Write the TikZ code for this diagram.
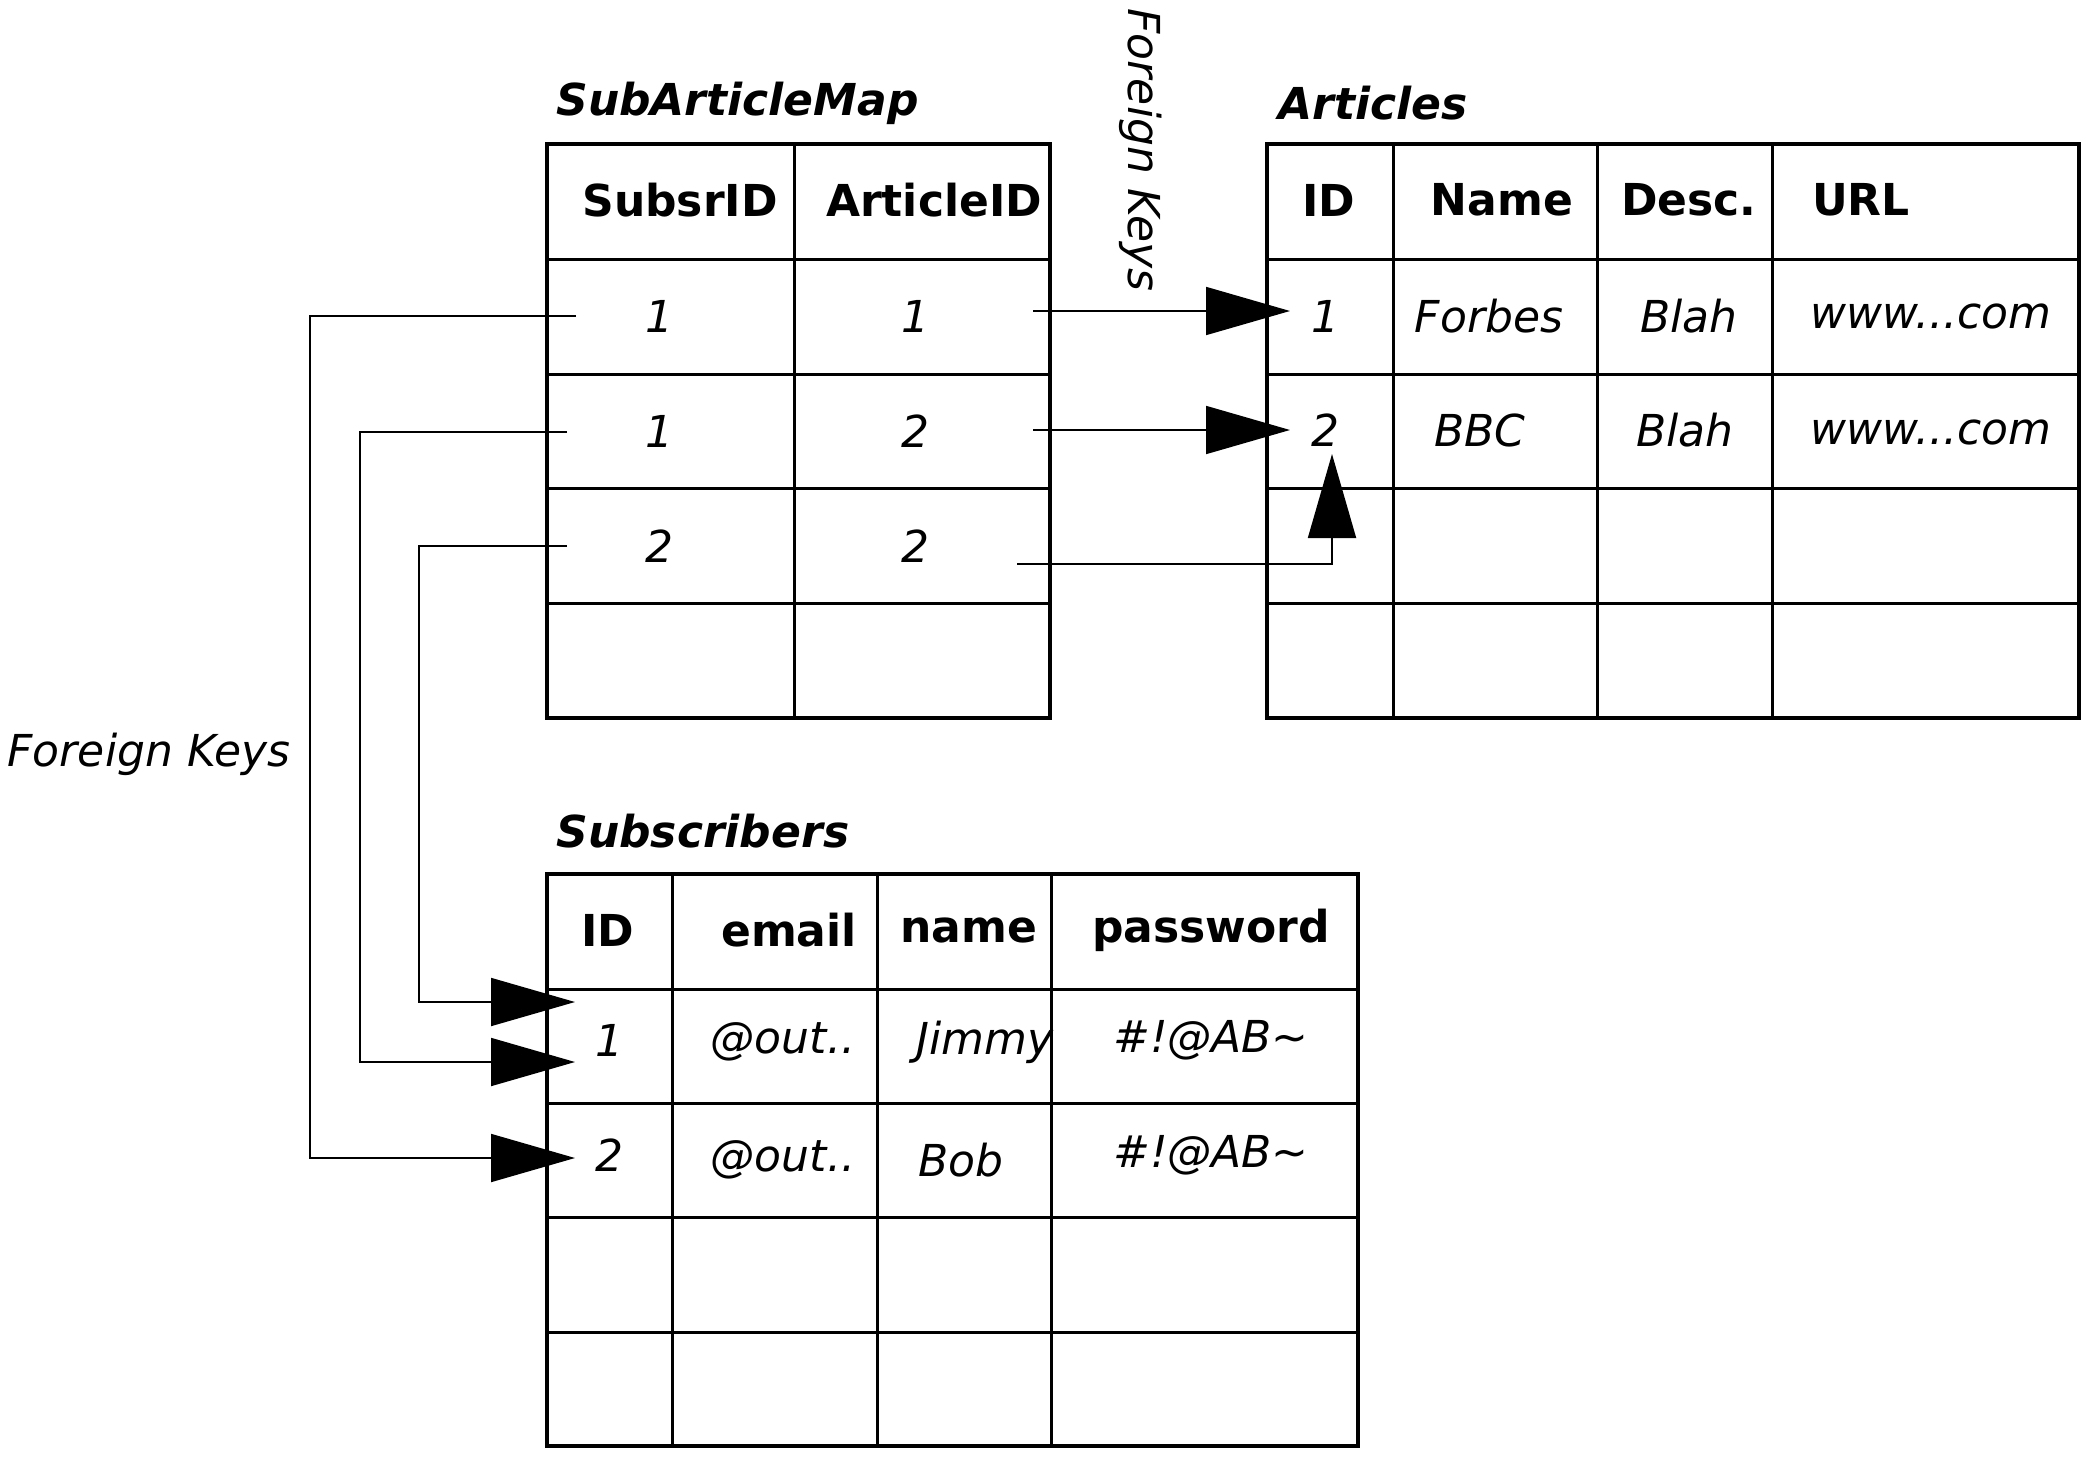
\documentclass[tikz,border=0pt]{standalone}
\usepackage{fontspec}
\setmainfont{DejaVu Sans}
\usetikzlibrary{arrows.meta}
\begin{document}
\begin{tikzpicture}[x=0.5pt,y=-0.5pt,
  outer/.style={line width=2pt},
  inner/.style={line width=1.5pt},
  conn/.style={line width=0.9pt},
  fk/.style={conn,-{Triangle[length=42pt,width=24pt]}},
  title/.style={font=\fontsize{22}{26}\selectfont\bfseries\itshape, anchor=west, inner sep=0pt},
  hdr/.style={font=\fontsize{22}{26}\selectfont\bfseries, inner sep=0pt},
  val/.style={font=\fontsize{22}{26}\selectfont\itshape, inner sep=0pt},
  lbl/.style={font=\fontsize{22}{26}\selectfont\itshape, inner sep=0pt}]
\useasboundingbox (0,0) rectangle (2092,1461);

% ---------- SubArticleMap ----------
\node[title] (tSAM) at (556,103) {SubArticleMap};
\draw[outer] (547,144) rectangle (1050,718);
\foreach \y in {259,374,488,603} \draw[inner] (547,\y) -- (1050,\y);
\draw[inner] (794,144) -- (794,718);
\node[hdr] (hSub) at (680,200) {SubsrID};
\node[hdr] (hArt) at (934,200) {ArticleID};
\node[val] (m11) at (659,316) {1};
\node[val] (m12) at (915,316) {1};
\node[val] (m21) at (659,431) {1};
\node[val] (m22) at (915,431) {2};
\node[val] (m31) at (659,546) {2};
\node[val] (m32) at (915,546) {2};

% ---------- Articles ----------
\node[title] (tArt) at (1278,103) {Articles};
\draw[outer] (1267,144) rectangle (2079,718);
\foreach \y in {259,374,488,603} \draw[inner] (1267,\y) -- (2079,\y);
\foreach \x in {1393,1597,1772} \draw[inner] (\x,144) -- (\x,718);
\node[hdr] (aID) at (1329,200) {ID};
\node[hdr] (aName) at (1502,200) {Name};
\node[hdr] (aDesc) at (1689,200) {Desc.};
\node[hdr] (aURL) at (1861,200) {URL};
\node[val] (a11) at (1325,316) {1};
\node[val] (a12) at (1489,316) {Forbes};
\node[val] (a13) at (1689,316) {Blah};
\node[val] (a14) at (1931,316) {www...com};
\node[val] (a21) at (1325,430) {2};
\node[val] (a22) at (1480,430) {BBC};
\node[val] (a23) at (1685,430) {Blah};
\node[val] (a24) at (1931,432) {www...com};

% ---------- Subscribers ----------
\node[title] (tSubs) at (556,831) {Subscribers};
\draw[outer] (547,874) rectangle (1358,1446);
\foreach \y in {989,1103,1217,1332} \draw[inner] (547,\y) -- (1358,\y);
\foreach \x in {672,877,1051} \draw[inner] (\x,874) -- (\x,1446);
\node[hdr] (sID) at (608,930) {ID};
\node[hdr] (sEmail) at (789,930) {email};
\node[hdr] (sName) at (969,930) {name};
\node[hdr] (sPw) at (1211,930) {password};
\node[val] (s11) at (609,1040) {1};
\node[val] (s12) at (783,1042) {@out..};
\node[val] (s13) at (985,1042) {Jimmy};
\node[val] (s14) at (1211,1040) {\#!@AB\char"007E};
\node[val] (s21) at (609,1155) {2};
\node[val] (s22) at (783,1160) {@out..};
\node[val] (s23) at (961,1160) {Bob};
\node[val] (s24) at (1211,1155) {\#!@AB\char"007E};

% ---------- labels ----------
\node[lbl] (fkL) at (149,754) {Foreign Keys};
\node[lbl, rotate=-90] (fkT) at (1141,150) {Foreign Keys};

% ---------- connectors ----------
\coordinate (r1s) at (1033,311); \coordinate (r1t) at (1290,311);
\coordinate (r2s) at (1033,430); \coordinate (r2t) at (1290,430);
\coordinate (r3s) at (1017,564); \coordinate (r3t) at (1332,454);
\draw[fk] (r1s) -- (r1t);
\draw[fk] (r2s) -- (r2t);
\draw[fk] (r3s) -| (r3t);

\coordinate (l1s) at (576,316); \coordinate (l1t) at (575,1158);
\coordinate (l2s) at (567,432); \coordinate (l2t) at (575,1062);
\coordinate (l3s) at (567,546); \coordinate (l3t) at (575,1002);
\draw[fk] (l1s) -- ++(-266,0) |- (l1t);
\draw[fk] (l2s) -- ++(-207,0) |- (l2t);
\draw[fk] (l3s) -- ++(-148,0) |- (l3t);
\end{tikzpicture}
\end{document}
